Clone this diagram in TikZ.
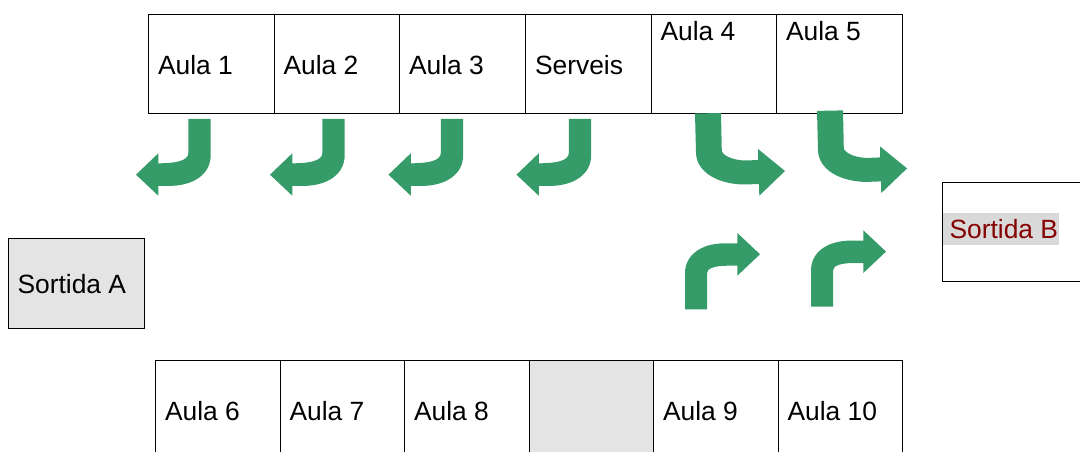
\documentclass[tikz,border=0pt]{standalone}
\usepackage{fontspec}
\setmainfont{Liberation Sans}
\definecolor{arrowgreen}{HTML}{359C69}
\definecolor{lightgrey}{HTML}{E4E4E4}
\definecolor{highlightgrey}{HTML}{D9D9D9}
\definecolor{exitred}{HTML}{850000}
\tikzset{
  roombox/.style={draw=black,line width=.75pt,inner sep=0pt,outer sep=0pt,anchor=north west},
  roomtext/.style={inner sep=0pt,outer sep=0pt,anchor=base west,font=\fontsize{19.8pt}{22pt}\selectfont,text=black},
  turnarrow/.style={fill=arrowgreen,draw=none}
}
\newcommand\roomcell[6][]{\node[roombox,#1,minimum width={(#4-#3)*.75pt},minimum height={(#6-#5)*.75pt}] (#2) at (#3,#5) {};}
\newcommand\leftturn[1]{\fill[turnarrow,shift={(#1,0)}] (188.3,119) -- (210.7,119) -- (210.7,155) .. controls (210.7,174) and (194,186) .. (168,186) -- (158.3,186) -- (158.3,195.7) -- (136,174.7) -- (158.3,153.3) -- (158.3,163.3) .. controls (175,163.3) and (188.3,161) .. (188.3,153) -- cycle;}
\newcommand\rightturn[2]{\fill[turnarrow,shift={(#1,#2)}] (695,113.5) -- (721,113) -- (721.8,151.5) .. controls (725,157) and (735,160.5) .. (746,160.5) -- (758,160) -- (758,149) -- (785,171) -- (759.3,195.7) -- (759,184) -- (745,184.5) .. controls (718,184.5) and (696.5,172) .. (696,153) -- cycle;}
\newcommand\upturn[2]{\fill[turnarrow,shift={(#1,#2)}] (685,309.3) -- (707,309.3) -- (707,273) .. controls (707,268) and (716,265.7) .. (728,265.7) -- (737.3,265.7) -- (737.3,275.7) -- (760,254.3) -- (737.3,233) -- (737.3,243.3) -- (725,243.3) .. controls (700,243.3) and (685,256) .. (685,273) -- cycle;}
\begin{document}
\begin{tikzpicture}[x=.75pt,y=-.75pt]
\useasboundingbox (0,0) rectangle (1080,452);
\clip (0,0) rectangle (1080,452);
% top row
\roomcell{a1}{148.5}{274}{14.5}{114}
\roomcell{a2}{274}{399.5}{14.5}{114}
\roomcell{a3}{399.5}{525}{14.5}{114}
\roomcell{sv}{525}{651}{14.5}{114}
\roomcell{a4}{651}{776.5}{14.5}{114}
\roomcell{a5}{776.5}{902}{14.5}{114}
\node[roomtext] (ta1) at (158,75) {Aula 1};
\node[roomtext] (ta2) at (283.5,75) {Aula 2};
\node[roomtext] (ta3) at (409,75) {Aula 3};
\node[roomtext] (tsv) at (535,75) {Serveis};
\node[roomtext] (ta4) at (660.5,41) {Aula 4};
\node[roomtext] (ta5) at (786,41) {Aula 5};
% bottom row
\roomcell{a6}{155.5}{280}{360}{470}
\roomcell{a7}{280}{404.5}{360}{470}
\roomcell{a8}{404.5}{529}{360}{470}
\roomcell[fill=lightgrey]{gr}{529}{653.5}{360}{470}
\roomcell{a9}{653.5}{778}{360}{470}
\roomcell{a10}{778}{902}{360}{470}
\node[roomtext] (ta6) at (165,420) {Aula 6};
\node[roomtext] (ta7) at (289.5,420) {Aula 7};
\node[roomtext] (ta8) at (414,420) {Aula 8};
\node[roomtext] (ta9) at (663,420) {Aula 9};
\node[roomtext] (ta10) at (787.5,420) {Aula 10};
% exits
\roomcell[fill=lightgrey]{sa}{8}{144.5}{238}{328}
\node[roomtext] (tsa) at (17.5,293) {Sortida A};
\roomcell{sb}{942.5}{1100}{182.5}{281}
\fill[highlightgrey] (943,213) rectangle (1059,245);
\node[roomtext,text=exitred] (tsb) at (949.5,238.8) {Sortida B};
% arrows
\leftturn{0}
\leftturn{134}
\leftturn{252.5}
\leftturn{380.5}
\rightturn{0}{0}
\rightturn{122}{-2.6}
\upturn{0}{0}
\upturn{126}{-2.7}
\end{tikzpicture}
\end{document}
